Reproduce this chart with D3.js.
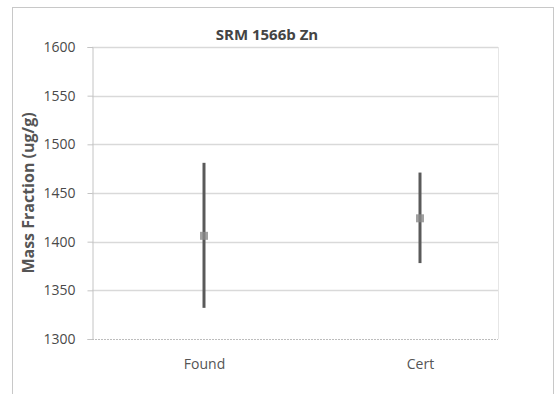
<!DOCTYPE html>
<html>
<head>
<meta charset="utf-8">
<script src="https://cdn.jsdelivr.net/npm/d3@7"></script>
<style>
  html, body { margin: 0; padding: 0; background: #fff; }
  svg { display: block; }
  text { font-family: "Open Sans", "Liberation Sans", sans-serif; }
</style>
</head>
<body>
<svg id="chart" width="554" height="394"></svg>
<script>
// Zinc mass fraction: measured value vs certified value, with uncertainty
const categories = ["Found", "Cert"];
const means = [1406, 1424];
const lows = [1332, 1378];
const highs = [1481, 1471];
const yTicks = [1300, 1350, 1400, 1450, 1500, 1550, 1600];
const chartTitle = "SRM 1566b Zn";
const yTitle = "Mass Fraction (ug/g)";

const svg = d3.select("#chart");
const plot = { left: 92, right: 498, top: 47, bottom: 339 };
const W = 554, H = 394;

// outer chart frame
svg.append("rect")
  .attr("x", 12.5).attr("y", 7.5)
  .attr("width", W - 13).attr("height", H - 7)
  .attr("fill", "#fff").attr("stroke", "#c8c8c8").attr("stroke-width", 1);

const x = d3.scalePoint()
  .domain(categories)
  .range([204, 420])
  .padding(0);

const y = d3.scaleLinear()
  .domain([1300, 1600])
  .range([plot.bottom, plot.top]);

// horizontal gridlines
svg.append("g")
  .selectAll("line")
  .data(yTicks.filter(t => t > 1300))
  .join("line")
  .attr("x1", plot.left).attr("x2", plot.right)
  .attr("y1", d => Math.round(y(d)) + 0.5).attr("y2", d => Math.round(y(d)) + 0.5)
  .attr("stroke", "#d9d9d9").attr("stroke-width", 1.5);

// y axis
const yAxis = d3.axisLeft(y).tickValues(yTicks).tickFormat(d3.format("d"))
  .tickSize(5).tickPadding(12);
const gy = svg.append("g")
  .attr("transform", `translate(${plot.left + 0.5},0)`)
  .call(yAxis);
gy.select(".domain").attr("stroke", "#c4c4c4");
gy.selectAll(".tick line").attr("stroke", "#c4c4c4");
gy.selectAll(".tick text")
  .attr("fill", "#4a4a4a").attr("font-size", 14);

// x axis
const xAxis = d3.axisBottom(x).tickSize(0).tickPadding(20);
const gx = svg.append("g")
  .attr("transform", `translate(0,${Math.round(y(1300)) + 0.5})`)
  .call(xAxis);
gx.select(".domain").attr("stroke", "#bdbdbd").attr("stroke-dasharray", "2,1")
  .attr("d", `M${plot.left},0H${plot.right}`);
gx.selectAll(".tick text").attr("fill", "#555").attr("font-size", 14);

// right edge of plot area
svg.append("line")
  .attr("x1", plot.right + 0.5).attr("x2", plot.right + 0.5)
  .attr("y1", y(1600)).attr("y2", y(1300))
  .attr("stroke", "#e6e6e6");

// error bars
svg.append("g")
  .selectAll("line")
  .data(categories)
  .join("line")
  .attr("x1", d => x(d)).attr("x2", d => x(d))
  .attr("y1", (d, i) => y(lows[i])).attr("y2", (d, i) => y(highs[i]))
  .attr("stroke", "#5a5a5a").attr("stroke-width", 3);

// mean markers
svg.append("g")
  .selectAll("rect")
  .data(categories)
  .join("rect")
  .attr("x", d => x(d) - 4).attr("y", (d, i) => y(means[i]) - 4)
  .attr("width", 8).attr("height", 8)
  .attr("fill", "#8a8a8a").attr("opacity", 0.8);

// title
svg.append("text")
  .attr("x", 267).attr("y", 40)
  .attr("text-anchor", "middle")
  .attr("font-size", 15).attr("font-weight", "bold")
  .attr("fill", "#444")
  .text(chartTitle);

// y axis title
svg.append("text")
  .attr("transform", `translate(34,${(y(1300) + y(1600)) / 2}) rotate(-90)`)
  .attr("text-anchor", "middle")
  .attr("font-size", 16).attr("font-weight", "bold")
  .attr("fill", "#555")
  .text(yTitle);
</script>
</body>
</html>
